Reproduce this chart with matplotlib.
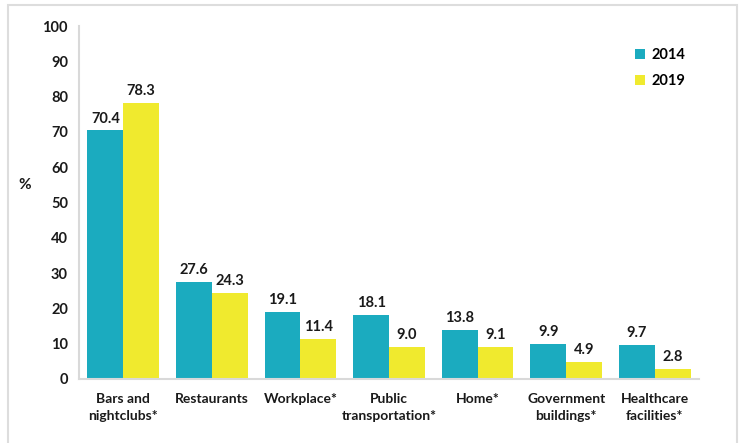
import numpy as np
import matplotlib.pyplot as plt
from matplotlib.patches import Rectangle

plt.rcParams['font.family'] = ['Lato', 'DejaVu Sans']

categories = ["Bars and\nnightclubs*", "Restaurants", "Workplace*", "Public\ntransportation*",
              "Home*", "Government\nbuildings*", "Healthcare\nfacilities*"]
vals_2014 = [70.4, 27.6, 19.1, 18.1, 13.8, 9.9, 9.7]
vals_2019 = [78.3, 24.3, 11.4, 9.0, 9.1, 4.9, 2.8]
years = ["2014", "2019"]

teal = "#1BABBF"
yellow = "#F0EA2E"
axis_grey = "#D9D9D9"

W, H = 742, 443
fig = plt.figure(figsize=(W / 100, H / 100), dpi=100)
# axes in pixel coordinates: left 79, right 699, y0 at 379, y100 at 26
ax = fig.add_axes([79 / W, (H - 379) / H, 620 / W, 353 / H])

x = np.arange(len(categories))
bw = 0.405
b1 = ax.bar(x - bw / 2, vals_2014, bw, color=teal, label=years[0])
b2 = ax.bar(x + bw / 2, vals_2019, bw, color=yellow, label=years[1])

for bars, vals in ((b1, vals_2014), (b2, vals_2019)):
    for r, v in zip(bars, vals):
        ax.text(r.get_x() + r.get_width() / 2, v + 1.4, f"{v:.1f}",
                ha="center", va="bottom", fontsize=10.5, fontweight="bold", color="#1a1a1a")

ax.set_xlim(-0.5, len(categories) - 0.5)
ax.set_ylim(0, 100)
ax.set_yticks(range(0, 101, 10))
ax.set_xticks(x)
ax.set_xticklabels(categories, fontsize=10, fontweight="bold", color="#1a1a1a", linespacing=1.5)
ax.tick_params(axis="both", length=0)
ax.tick_params(axis="x", pad=10)
ax.tick_params(axis="y", pad=8)
for lab in ax.get_yticklabels():
    lab.set_fontsize(10.5)
    lab.set_fontweight("bold")
    lab.set_color("#1a1a1a")

for s in ("top", "right"):
    ax.spines[s].set_visible(False)
for s in ("left", "bottom"):
    ax.spines[s].set_color(axis_grey)
    ax.spines[s].set_linewidth(1.5)

fig.text(25 / W, 1 - 185 / H, "%", ha="center", va="center", fontsize=11,
         fontweight="bold", color="#1a1a1a")

leg = ax.legend(loc="upper right", bbox_to_anchor=(698 / W, 1 - 35 / H),
                bbox_transform=fig.transFigure, frameon=False, handlelength=0.7,
                handleheight=0.7, handletextpad=0.4, labelspacing=0.8,
                prop={"size": 10.5, "weight": "bold"})

fig.patches.append(Rectangle((8 / W, -0.01), 729 / W, 1 - 5 / H + 0.01,
                             transform=fig.transFigure, fill=False,
                             edgecolor="#DDDDDD", linewidth=1.5))

fig.savefig("out.png", dpi=100)
